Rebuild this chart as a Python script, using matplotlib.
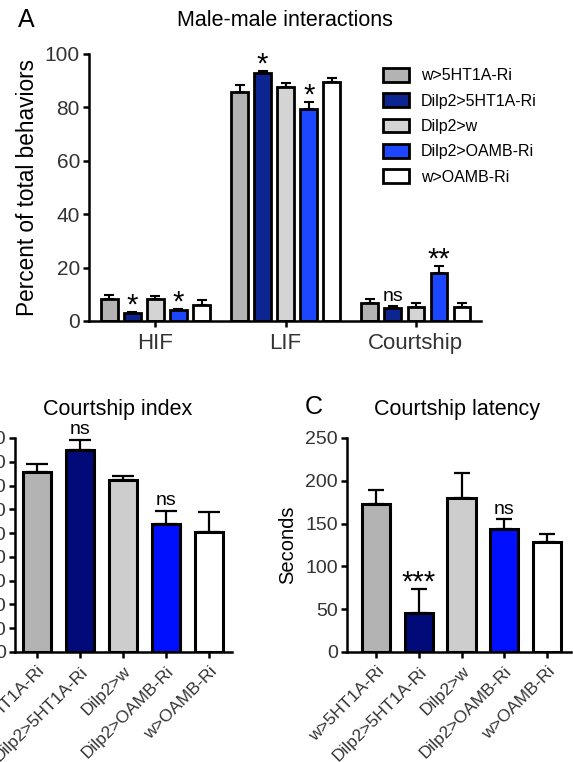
import matplotlib
matplotlib.use('Agg')
import matplotlib.pyplot as plt
import numpy as np

plt.rcParams['font.family'] = ['Liberation Sans', 'DejaVu Sans']

genotypes = ['w>5HT1A-Ri', 'Dilp2>5HT1A-Ri', 'Dilp2>w', 'Dilp2>OAMB-Ri', 'w>OAMB-Ri']
behaviors = ['HIF', 'LIF', 'Courtship']

# panel A: mean and sem per genotype, over HIF / LIF / Courtship
a_mean = [[8.1, 85.8, 6.6],
          [3.0, 93.0, 4.7],
          [8.1, 87.5, 5.4],
          [4.0, 79.3, 17.9],
          [6.0, 89.6, 5.1]]
a_sem = [[1.5, 2.5, 1.5],
         [0.4, 0.5, 0.9],
         [1.3, 1.8, 1.5],
         [0.4, 2.7, 2.8],
         [1.9, 1.5, 1.5]]
# (behavior, genotype, label)
a_marks = [(0, 1, '*'), (0, 3, '*'), (1, 1, '*'), (1, 3, '*'), (2, 1, 'ns'), (2, 3, '**')]

# panel B: courtship index
b_mean = [75.5, 85.0, 72.4, 53.9, 50.6]
b_sem = [3.5, 4.3, 1.7, 5.6, 8.4]
b_marks = [(1, 'ns'), (3, 'ns')]

# panel C: courtship latency (s)
c_mean = [173, 46, 180, 144, 128.5]
c_sem = [16, 28, 29, 11, 9]
c_marks = [(1, '***'), (3, 'ns')]

a_colors = ['#b3b3b3', '#0d2590', '#d4d4d4', '#1c46ff', '#ffffff']
bc_colors = ['#b3b3b3', '#000a78', '#cdcdcd', '#0010ff', '#ffffff']

W, H = 573, 762
fig = plt.figure(figsize=(W / 100, H / 100), dpi=100)


def px_axes(l, t, r, b):
    return fig.add_axes([l / W, 1 - b / H, (r - l) / W, (b - t) / H])


def style(ax, lw=1.8):
    for s in ['top', 'right']:
        ax.spines[s].set_visible(False)
    for s in ['left', 'bottom']:
        ax.spines[s].set_linewidth(lw)
    ax.tick_params(width=lw, length=4.5, color='black')


def mark(ax, x, y, t):
    # stars are drawn a bit bigger and pulled down, they sit high in the font box
    if '*' in t:
        ax.annotate(t, (x, y), xytext=(0, -5.5), textcoords='offset points',
                    ha='center', va='bottom', fontsize=21, annotation_clip=False)
    else:
        ax.annotate(t, (x, y), xytext=(0, 1), textcoords='offset points',
                    ha='center', va='bottom', fontsize=14, annotation_clip=False)


# ---- A ----
axA = px_axes(89, 54, 481, 321)
style(axA)
pitch, bw = 0.177, 0.128
gx = np.arange(len(behaviors))
for i, g in enumerate(genotypes):
    x = gx + (i - 2) * pitch
    axA.errorbar(x, a_mean[i], yerr=[np.zeros(3), a_sem[i]], fmt='none', ecolor='black',
                 elinewidth=1.5, capsize=3.5, capthick=1.5, zorder=1)
    axA.bar(x, a_mean[i], bw, color=a_colors[i], edgecolor='black', linewidth=2.0,
            label=g, zorder=2)
for b, i, t in a_marks:
    mark(axA, b + (i - 2) * pitch, a_mean[i][b] + a_sem[i][b], t)
axA.set_xlim(-0.51, 2.5)
axA.set_ylim(0, 100)
axA.set_yticks([0, 20, 40, 60, 80, 100])
axA.set_xticks(gx)
axA.set_xticklabels(behaviors, fontsize=16, color='#333333')
axA.tick_params(axis='y', labelsize=15, labelcolor='#333333', pad=2)
axA.tick_params(axis='x', pad=4)
axA.set_ylabel('Percent of total behaviors', fontsize=16.3, labelpad=4)
fig.text(18 / W, 1 - 20 / H, 'A', fontsize=18, va='center')
fig.text(285 / W, 1 - 20 / H, 'Male-male interactions', fontsize=15.5, ha='center', va='center')
axA.legend(loc='upper left', bbox_to_anchor=(383 / W, 1 - 68 / H), bbox_transform=fig.transFigure,
           frameon=False, fontsize=11.5, handlelength=1.65, handleheight=0.95,
           handletextpad=0.7, labelspacing=0.62, borderpad=0, borderaxespad=0)


def small_panel(ax, means, sems, marks, capsize):
    style(ax)
    x = np.arange(len(genotypes))
    ax.errorbar(x, means, yerr=[np.zeros(len(x)), sems], fmt='none', ecolor='black',
                elinewidth=1.6, capsize=capsize, capthick=1.6, zorder=1)
    ax.bar(x, means, 0.66, color=bc_colors, edgecolor='black', linewidth=2.2, zorder=2)
    for i, t in marks:
        mark(ax, i, means[i] + sems[i], t)
    ax.set_xticks(x)
    ax.set_xticklabels(genotypes, rotation=45, ha='right', rotation_mode='anchor',
                       fontsize=12.5, color='#333333')
    ax.tick_params(axis='y', labelsize=14, labelcolor='#333333', pad=2)
    ax.tick_params(axis='x', pad=4)


# ---- B ----
axB = px_axes(15, 438, 232, 652)
small_panel(axB, b_mean, b_sem, b_marks, 8)
axB.set_xlim(-0.51, 4.53)
axB.set_ylim(0, 90)
axB.set_yticks(np.arange(0, 91, 10))
fig.text(118 / W, 1 - 409 / H, 'Courtship index', fontsize=15.5, ha='center', va='center')

# ---- C ----
axC = px_axes(347, 438, 571, 652)
small_panel(axC, c_mean, c_sem, c_marks, 6)
axC.set_xlim(-0.68, 4.56)
axC.set_ylim(0, 250)
axC.set_yticks([0, 50, 100, 150, 200, 250])
axC.set_ylabel('Seconds', fontsize=14.5, labelpad=6)
fig.text(305 / W, 1 - 407 / H, 'C', fontsize=18, va='center')
fig.text(457 / W, 1 - 409 / H, 'Courtship latency', fontsize=15.5, ha='center', va='center')

fig.savefig('out.png', dpi=100)
